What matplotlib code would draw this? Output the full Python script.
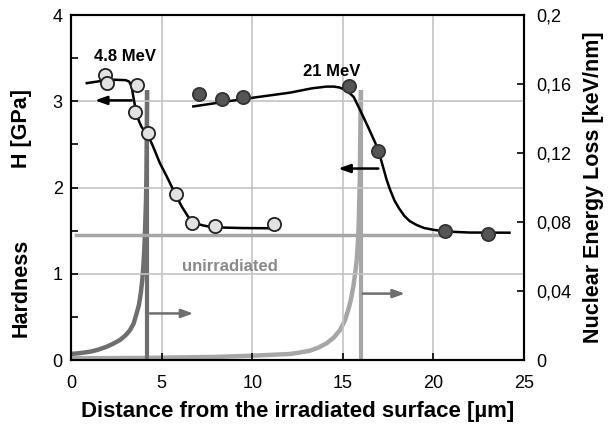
import matplotlib
matplotlib.use("Agg")
import matplotlib.pyplot as plt
from matplotlib.ticker import MultipleLocator, FixedLocator

plt.rcParams['font.family'] = ['Liberation Sans', 'DejaVu Sans']

# Hardness data points
hv_x_48 = [1.88, 1.97, 3.62, 3.53, 4.27, 5.79, 6.69, 7.95, 11.2]
hv_y_48 = [3.30, 3.21, 3.19, 2.87, 2.63, 1.92, 1.59, 1.55, 1.58]
hv_x_21 = [7.06, 8.35, 9.51, 15.36, 16.96, 20.64, 23.03]
hv_y_21 = [3.08, 3.03, 3.05, 3.18, 2.42, 1.49, 1.46]

# Fitted hardness curves
fit_x_48 = [0.87, 1.5, 2.3, 3.0, 3.2, 3.3, 3.38, 3.44, 3.53, 3.62, 3.75, 3.90,
            4.08, 4.27, 4.54, 4.91, 5.28, 5.74, 6.11, 6.47, 6.7, 6.94, 7.3,
            7.67, 8.5, 9.5, 11.26]
fit_y_48 = [3.21, 3.23, 3.25, 3.245, 3.23, 3.19, 3.13, 3.05, 2.95, 2.86, 2.77,
            2.70, 2.65, 2.60, 2.47, 2.28, 2.13, 1.93, 1.78, 1.66, 1.61, 1.58,
            1.56, 1.545, 1.535, 1.53, 1.527]
fit_x_21 = [6.75, 8.35, 10.0, 12.09, 13.3, 14.1, 14.5, 14.8, 15.2, 15.6, 15.95,
            16.4, 16.87, 17.1, 17.42, 17.6, 17.85, 18.1, 18.4, 18.7, 19.08,
            19.5, 20.0, 20.64, 22.0, 24.2]
fit_y_21 = [2.94, 2.99, 3.04, 3.10, 3.15, 3.17, 3.17, 3.16, 3.13, 3.05, 2.90,
            2.70, 2.48, 2.33, 2.09, 1.98, 1.85, 1.76, 1.67, 1.61, 1.565,
            1.53, 1.51, 1.49, 1.478, 1.476]

# Unirradiated hardness level
unirr_x = [0.28, 20.5]
unirr_h = [1.45, 1.45]

# Nuclear energy loss profiles (keV/nm)
nel_x_48 = [0, 0.5, 1.05, 1.5, 1.97, 2.3, 2.70, 3.0, 3.26, 3.45, 3.62, 3.75,
            3.85, 3.93, 3.99, 4.04, 4.08, 4.11, 4.14, 4.16, 4.18, 4.2]
nel_y_48 = [0.0035, 0.004, 0.0048, 0.006, 0.0077, 0.0093, 0.0116, 0.0142,
            0.0174, 0.021, 0.027, 0.032, 0.0387, 0.046, 0.054, 0.063, 0.0734,
            0.083, 0.093, 0.105, 0.125, 0.1565]
nel_x_21 = [0, 4, 8, 10, 12.09, 12.6, 13.19, 13.65, 14.11, 14.5, 14.85, 15.1,
            15.30, 15.45, 15.58, 15.68, 15.77, 15.82, 15.86, 15.89, 15.91,
            15.94, 15.96, 16.0]
nel_y_21 = [0.001, 0.0012, 0.0018, 0.0025, 0.0035, 0.0043, 0.0054, 0.0072,
            0.0097, 0.0130, 0.0174, 0.0225, 0.029, 0.035, 0.0425, 0.050, 0.058,
            0.066, 0.0734, 0.083, 0.0928, 0.105, 0.125, 0.1565]
range_48 = 4.21
range_21 = 16.03
peak_nel = 0.1565

x_ticks = [0, 5, 10, 15, 20, 25]
h_ticks = [0, 1, 2, 3, 4]
nel_ticks = [0, 0.04, 0.08, 0.12, 0.16, 0.2]
nel_labels = ["0", "0,04", "0,08", "0,12", "0,16", "0,2"]

DARK = "#6e6e6e"
LIGHT = "#a6a6a6"

fig = plt.figure(figsize=(6.08, 4.25), dpi=100)
ax = fig.add_axes([0.1168, 0.1529, 0.745, 0.8118])
ax2 = ax.twinx()
ax.set_zorder(ax2.get_zorder() + 1)
ax.patch.set_visible(False)

# energy loss curves
ax2.plot(nel_x_48, nel_y_48, color=DARK, lw=3.2, solid_capstyle='butt',
         solid_joinstyle='round')
ax2.plot(nel_x_21, nel_y_21, color=LIGHT, lw=3.2, solid_capstyle='butt',
         solid_joinstyle='round')
ax2.vlines([range_48], 0, peak_nel, color=DARK, lw=3.0)
ax2.vlines([range_21], 0, peak_nel, color=LIGHT, lw=3.0)
ax2.set_ylim(0, 0.2)
ax2.yaxis.set_major_locator(FixedLocator(nel_ticks))
ax2.set_yticklabels(nel_labels)
ax2.tick_params(axis='y', direction='in', length=5, width=1.2, labelsize=13, pad=9)
ax2.set_ylabel("Nuclear Energy Loss [keV/nm]", fontsize=15.5, fontweight='bold',
               labelpad=8)

# grid
ax.set_xlim(0, 25)
ax.set_ylim(0, 4)
ax.xaxis.set_major_locator(FixedLocator(x_ticks))
ax.yaxis.set_major_locator(FixedLocator(h_ticks))
ax.yaxis.set_minor_locator(MultipleLocator(0.5))
ax.grid(True, which='major', color='#c4c4c4', lw=1.2, zorder=0)
ax.set_axisbelow(True)

ax.plot(unirr_x, unirr_h, color=LIGHT, lw=2.5, zorder=2)
ax.plot(fit_x_48, fit_y_48, color='black', lw=1.8, zorder=3,
        solid_joinstyle='round')
ax.plot(fit_x_21, fit_y_21, color='black', lw=1.8, zorder=3,
        solid_joinstyle='round')
ax.plot(hv_x_48, hv_y_48, 'o', ms=9.5, mfc='#e2e2e2', mec='#222222', mew=1.3,
        zorder=4, linestyle='none')
ax.plot(hv_x_21, hv_y_21, 'o', ms=9.5, mfc='#555555', mec='#333333', mew=1.3,
        zorder=4, linestyle='none')

# arrows
ap_k = dict(arrowstyle='-|>,head_length=0.7,head_width=0.25', color='black', lw=1.8,
            shrinkA=0, shrinkB=0)
ap_g = dict(arrowstyle='-|>,head_length=0.7,head_width=0.25', color=DARK, lw=1.8,
            shrinkA=0, shrinkB=0)
ax.annotate("", xy=(1.32, 3.01), xytext=(3.35, 3.01), arrowprops=ap_k, zorder=3)
ax.annotate("", xy=(14.75, 2.22), xytext=(16.96, 2.22), arrowprops=ap_k, zorder=3)
ax.annotate("", xy=(6.75, 0.54), xytext=(4.36, 0.54), arrowprops=ap_g, zorder=3)
ax.annotate("", xy=(18.43, 0.77), xytext=(16.1, 0.77), arrowprops=ap_g, zorder=3)

ax.text(2.98, 3.52, "4.8 MeV", fontsize=12, fontweight='bold', ha='center',
        va='center')
ax.text(14.39, 3.34, "21 MeV", fontsize=12, fontweight='bold', ha='center',
        va='center')
ax.text(8.78, 1.08, "unirradiated", fontsize=12, fontweight='bold', ha='center',
        va='center', color='#8a8a8a')

ax.tick_params(axis='x', which='both', direction='in', length=5, width=1.2,
               labelsize=13, pad=11, top=False)
ax.tick_params(axis='y', which='both', direction='in', length=5, width=1.2,
               labelsize=13, pad=6)
ax.set_xlabel("Distance from the irradiated surface [µm]", fontsize=16,
              fontweight='bold', labelpad=6)

for a in (ax, ax2):
    for s in a.spines.values():
        s.set_linewidth(1.5)
        s.set_color('black')

fig.text(0.035, 1 - 129 / 425, "H [GPa]", rotation=90, fontsize=15.5,
         fontweight='bold', ha='center', va='center')
fig.text(0.035, 1 - 288 / 425, "Hardness", rotation=90, fontsize=15.5,
         fontweight='bold', ha='center', va='center')

fig.savefig("out.png", dpi=100)
